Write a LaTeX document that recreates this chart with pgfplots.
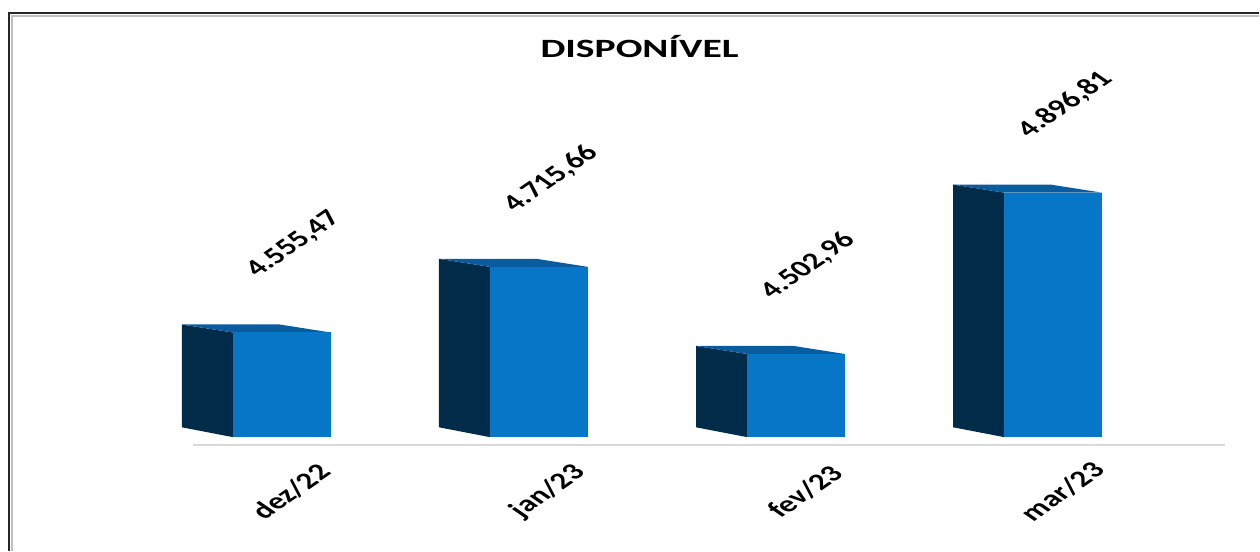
\documentclass[border=0pt]{standalone}
\usepackage{fontspec}
\setmainfont{Carlito}
\usepackage{pgfplots}
\pgfplotsset{compat=1.18}

\definecolor{barfront}{RGB}{7,118,198}
\definecolor{barside}{RGB}{0,44,74}
\definecolor{bartop}{RGB}{9,92,158}
\definecolor{baseline}{RGB}{217,217,217}

\begin{document}
\begin{tikzpicture}
\begin{axis}[
    scale only axis,
    width=630pt, height=275.5pt,
    xmin=-1.0959, xmax=3.8006,
    ymin=4023.2, ymax=5367.1,
    clip=false,
    axis line style={draw=none},
    tick style={draw=none},
    ytick=\empty,
    xtick={0,1,2,3},
    xticklabels={dez/22,jan/23,fev/23,mar/23},
    xticklabel style={anchor=center, yshift=29.5pt, xshift=4.5pt,
        xscale=1.45, rotate=45, font=\bfseries\fontsize{11.5}{13}\selectfont},
    title={DISPONÍVEL},
    title style={at={(0.508,0.893)}, anchor=center, xscale=1.5,
        font=\bfseries\fontsize{13.2}{15}\selectfont},
]

% base line
\addplot[draw=baseline, line width=1pt] coordinates {(-0.3459,4281.7)(3.6685,4281.7)};

% dez/22
\addplot[fill=barside, draw=none] coordinates {(-0.3886,4324)(-0.3886,4574.97)(-0.1904,4555.47)(-0.1904,4300)} --cycle;
\addplot[fill=bartop, draw=none] coordinates {(-0.1904,4555.47)(0.1904,4555.47)(-0.0078,4574.97)(-0.3886,4574.97)} --cycle;
\addplot[fill=barfront, draw=none] coordinates {(-0.1904,4300)(-0.1904,4555.47)(0.1904,4555.47)(0.1904,4300)} --cycle;

% jan/23
\addplot[fill=barside, draw=none] coordinates {(0.6114,4324)(0.6114,4735.16)(0.8096,4715.66)(0.8096,4300)} --cycle;
\addplot[fill=bartop, draw=none] coordinates {(0.8096,4715.66)(1.1904,4715.66)(0.9922,4735.16)(0.6114,4735.16)} --cycle;
\addplot[fill=barfront, draw=none] coordinates {(0.8096,4300)(0.8096,4715.66)(1.1904,4715.66)(1.1904,4300)} --cycle;

% fev/23
\addplot[fill=barside, draw=none] coordinates {(1.6114,4324)(1.6114,4522.46)(1.8096,4502.96)(1.8096,4300)} --cycle;
\addplot[fill=bartop, draw=none] coordinates {(1.8096,4502.96)(2.1904,4502.96)(1.9922,4522.46)(1.6114,4522.46)} --cycle;
\addplot[fill=barfront, draw=none] coordinates {(1.8096,4300)(1.8096,4502.96)(2.1904,4502.96)(2.1904,4300)} --cycle;

% mar/23
\addplot[fill=barside, draw=none] coordinates {(2.6114,4324)(2.6114,4916.31)(2.8096,4896.81)(2.8096,4300)} --cycle;
\addplot[fill=bartop, draw=none] coordinates {(2.8096,4896.81)(3.1904,4896.81)(2.9922,4916.31)(2.6114,4916.31)} --cycle;
\addplot[fill=barfront, draw=none] coordinates {(2.8096,4300)(2.8096,4896.81)(3.1904,4896.81)(3.1904,4300)} --cycle;

% value labels
\addplot[draw=none, mark=none, point meta=y,
    nodes near coords={\pgfmathprintnumber[fixed,fixed zerofill,precision=2,use comma,1000 sep={.},assume math mode=true]{\pgfplotspointmeta}},
    every node near coord/.append style={anchor=center, yshift=44pt, xshift=6pt,
        xscale=1.45, rotate=45, text=black, font=\bfseries\fontsize{11.5}{13}\selectfont}]
    coordinates {(0,4555.47)(1,4715.66)(2,4502.96)(3,4896.81)};

% frame
\draw[black!85, line width=1.1pt] (axis description cs:0.00714,0) -- (axis description cs:0.00714,0.9764) -- (axis description cs:1,0.9764);
\draw[black!25, line width=0.6pt] (axis description cs:0.0095,0) -- (axis description cs:0.0095,0.9709) -- (axis description cs:1,0.9709);
\end{axis}
\end{tikzpicture}
\end{document}
